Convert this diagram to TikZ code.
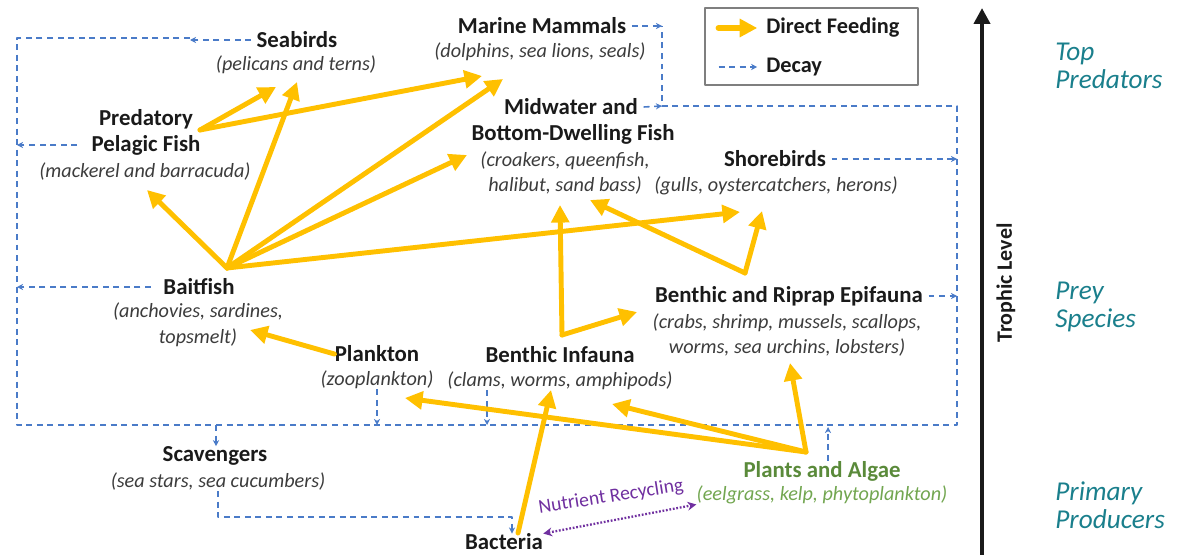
\documentclass[tikz,border=0pt]{standalone}
\usepackage{fontspec}
\setmainfont{Carlito}
\usetikzlibrary{arrows.meta}

\definecolor{feedcol}{HTML}{FFC000}
\definecolor{decaycol}{HTML}{4A7BC8}
\definecolor{titlecol}{HTML}{1A1A1A}
\definecolor{subcol}{HTML}{3C3C3C}
\definecolor{plantcol}{HTML}{5A8A3A}
\definecolor{plantsubcol}{HTML}{72A650}
\definecolor{recyclecol}{HTML}{7030A0}
\definecolor{levelcol}{HTML}{1A7F8C}
\definecolor{legendcol}{HTML}{7F7F7F}

\tikzset{
	title/.style={font=\fontsize{13}{14.7}\selectfont\bfseries, text=titlecol, align=center, inner sep=0pt},
	sub/.style={font=\fontsize{11.5}{14.7}\selectfont\itshape, text=subcol, align=center, inner sep=0pt},
	level/.style={font=\fontsize{15.5}{16}\selectfont\itshape, text=levelcol, align=left, anchor=west, inner sep=0pt},
	feeding/.style={feedcol, line width=2.8pt, -{Triangle[length=10pt,width=10pt]}},
	decayline/.style={decaycol, line width=0.9pt, line cap=butt, dash pattern=on 3.4pt off 2.6pt},
	decay/.style={decayline, -{Stealth[length=3.5pt,width=3.5pt]}},
	recycling/.style={recyclecol, line width=1.3pt, dash pattern=on 1pt off 1pt, line cap=butt, {Stealth[length=5pt,width=5pt]}-{Stealth[length=5pt,width=5pt]}}
}

\begin{document}
\begin{tikzpicture}[
	x=0.02cm, y=-0.02cm,
	line cap=round,
	line join=round
	]
	\useasboundingbox (0,0) rectangle (1182,554);

	\node[title] (seabirds) at (297,40) {Seabirds};
	\node[sub] (seabirdsSub) at (296,65) {(pelicans and terns)};
	\node[title] (mammals) at (542,26) {Marine Mammals};
	\node[sub] (mammalsSub) at (540,52) {(dolphins, sea lions, seals)};
	\node[title] (pelagic) at (146,119) {Predatory};
	\node[title] (pelagic2) at (146,145) {Pelagic Fish};
	\node[sub] (pelagicSub) at (145,172) {(mackerel and barracuda)};
	\node[title] (midwater) at (571,107) {Midwater and};
	\node[title] (midwater2) at (573,134) {Bottom-Dwelling Fish};
	\node[sub] (midwaterSub) at (565,173) {(croakers, queenfish,\\halibut, sand bass)};
	\node[title] (shorebirds) at (775,159) {Shorebirds};
	\node[sub] (shorebirdsSub) at (776,186) {(gulls, oystercatchers, herons)};
	\node[title] (baitfish) at (199,287) {Baitfish};
	\node[sub] (baitfishSub) at (198,325) {(anchovies, sardines,\\topsmelt)};
	\node[title] (epifauna) at (789,296) {Benthic and Riprap Epifauna};
	\node[sub] (epifaunaSub) at (787,335) {(crabs, shrimp, mussels, scallops,\\worms, sea urchins, lobsters)};
	\node[title] (plankton) at (377,354) {Plankton};
	\node[sub] (planktonSub) at (377,380) {(zooplankton)};
	\node[title] (infauna) at (560,355) {Benthic Infauna};
	\node[sub] (infaunaSub) at (560,381) {(clams, worms, amphipods)};
	\node[title] (scavengers) at (215,456) {Scavengers};
	\node[sub] (scavengersSub) at (218,482) {(sea stars, sea cucumbers)};
	\node[title, text=plantcol] (plants) at (822,471) {Plants and Algae};
	\node[sub, text=plantsubcol] (plantsSub) at (822,495) {(eelgrass, kelp, phytoplankton)};
	\node[title] (bacteria) at (504,542) {Bacteria};

	% legend
	\draw[legendcol, line width=1.1pt] (705,8) rectangle (918,85);
	\node[title, font=\fontsize{12.7}{14}\selectfont\bfseries, anchor=west] (legFeed) at (766,28) {Direct Feeding};
	\node[title, font=\fontsize{12.7}{14}\selectfont\bfseries, anchor=west] (legDecay) at (766,67) {Decay};
	\draw[feeding, line width=3.4pt] ([xshift=-27pt]legFeed.west) -- ([xshift=-5pt]legFeed.west);
	\draw[decay] ([xshift=-27pt]legDecay.west) -- ([xshift=-5pt]legDecay.west);

	% trophic level
	\coordinate (axisFoot) at (982,560);
	\coordinate (axisHead) at (982,8);
	\draw[titlecol, line width=2.3pt, -{Triangle[length=9pt,width=9pt]}] (axisFoot) -- (axisHead);
	\node[title, font=\fontsize{12.5}{14}\selectfont\bfseries, rotate=90] (trophic) at (1006,283) {Trophic Level};
	\node[level] (topLevel) at (1055,66) {Top\\Predators};
	\node[level] (preyLevel) at (1055,307) {Prey\\Species};
	\node[level] (primaryLevel) at (1055,505) {Primary\\Producers};

	% decay
	\coordinate (sbDrop) at (190,38);
	\coordinate (frameTL) at (17,38);
	\coordinate (frameBL) at (17,425);
	\coordinate (frameBR) at (957,425);
	\coordinate (frameTR) at (957,106);
	\coordinate (mwJoin) at (662,106);
	\coordinate (mmTurn) at (662,26);
	\coordinate (infaunaDrop) at (487,425);
	\coordinate (plantsRise) at (828,427);
	\coordinate (scavDrop) at (216,425);
	\coordinate (bcTurn) at (512,517);
	\draw[decayline] (sbDrop) -- (frameTL) -- (frameBL) -- (frameBR) -- (frameTR) -- (mwJoin) -- (mmTurn);
	\draw[decay] ([xshift=-3pt]seabirds.west) -- (seabirds.west -| sbDrop);
	\draw[decay] ([xshift=-8pt]pelagic2.west) -- (pelagic2.west -| frameTL);
	\draw[decay] ([xshift=-7pt]baitfish.west) -- (baitfish.west -| frameTL);
	\draw[decay] ([xshift=3pt]mammals.east) -- (mammals.east -| mmTurn);
	\draw[decay] ([xshift=3pt]midwater.east) -- (mwJoin);
	\draw[decay] ([xshift=3pt]shorebirds.east) -- (shorebirds.east -| frameTR);
	\draw[decay] ([xshift=3pt]epifauna.east) -- (epifauna.east -| frameTR);
	\draw[decay] (planktonSub.south) -- (planktonSub.south |- frameBL);
	\draw[decay] (infaunaSub.south -| infaunaDrop) -- (infaunaDrop);
	\draw[decay] (plants.north -| plantsRise) -- (plantsRise);
	\draw[decay] (scavDrop) -- (scavDrop |- scavengers.north);
	\draw[decay] (scavengersSub.south) |- (bcTurn) -- (bcTurn |- bacteria.north);

	% direct feeding
	\coordinate (bfApex) at (227,268);
	\coordinate (pfApex) at (200,130);
	\coordinate (inApex) at (562,335);
	\coordinate (epApex) at (745,273);
	\coordinate (pgApex) at (806,452);
	\coordinate (bcFoot) at (518,533);
	\coordinate (pfTip) at (147,190);
	\coordinate (sbTipA) at (297,82);
	\coordinate (sbTipB) at (276,87);
	\coordinate (mmTipA) at (482,76);
	\coordinate (mmTipB) at (503,79);
	\coordinate (mwTipA) at (467,155);
	\coordinate (mwTipB) at (560,205);
	\coordinate (mwTipC) at (590,200);
	\coordinate (shTipA) at (740,212);
	\coordinate (shTipB) at (762,211);
	\coordinate (bfTip) at (250,330);
	\coordinate (epTipA) at (637,312);
	\coordinate (epTipB) at (790,363);
	\coordinate (plTip) at (405,398);
	\coordinate (inTipA) at (612,404);
	\coordinate (inTipB) at (551,390);
	\foreach \t in {pfTip,sbTipA,mmTipB,mwTipA,shTipA}
		\draw[feeding] (bfApex) -- (\t);
	\draw[feeding] (pfApex) -- (sbTipB);
	\draw[feeding] (pfApex) -- (mmTipA);
	\draw[feeding] (plankton.west) -- (bfTip);
	\draw[feeding] (inApex) -- (mwTipB);
	\draw[feeding] (inApex) -- (epTipA);
	\draw[feeding] (epApex) -- (mwTipC);
	\draw[feeding] (epApex) -- (shTipB);
	\foreach \t in {plTip,inTipA,epTipB}
		\draw[feeding] (pgApex) -- (\t);
	\draw[feeding] (bcFoot) -- (inTipB);

	% nutrient recycling
	\node[font=\fontsize{11.2}{13}\selectfont, text=recyclecol, rotate=9, inner sep=0pt] (recycle) at (611,497) {Nutrient Recycling};
	\draw[recycling] (bacteria.north east) -- (plantsSub.south west);
\end{tikzpicture}
\end{document}
